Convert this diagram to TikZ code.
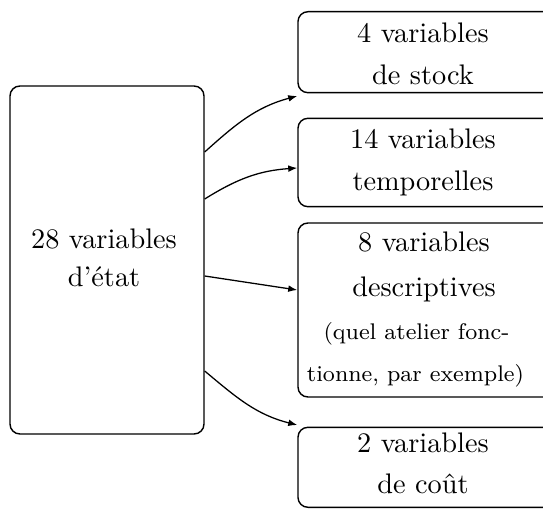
\documentclass[tikz,border=0pt]{standalone}
\usetikzlibrary{arrows.meta}
\begin{document}
\begin{tikzpicture}[x=0.3534pt,y=-0.3534pt,
  box/.style={draw,line width=0.5pt,rounded corners=3.5pt,inner sep=0pt},
  txt/.style={anchor=base,inner sep=0pt,font=\normalsize},
  small/.style={anchor=base,inner sep=0pt,font=\footnotesize},
  conn/.style={line width=0.45pt,-{Latex[length=3.2pt,width=2.4pt]}}]
\clip (0,0) rectangle (543,511);
% boxes
\node[box,minimum width=194*0.3534pt,minimum height=348*0.3534pt] (l) at (107,260) {};
\node[box,minimum width=258*0.3534pt,minimum height=81*0.3534pt] (b1) at (427,52.2) {};
\node[box,minimum width=258*0.3534pt,minimum height=88.4*0.3534pt] (b2) at (427,162.5) {};
\node[box,minimum width=258*0.3534pt,minimum height=174*0.3534pt] (b3) at (427,310) {};
\node[box,minimum width=258*0.3534pt,minimum height=80*0.3534pt] (b4) at (427,467.3) {};
% texts
\node[txt] (l1) at (104,248.3) {28 variables};
\node[txt] (l2) at (104,286.7) {d'\'etat};
\node[txt] (t11) at (423,42.3) {4 variables};
\node[txt] (t12) at (423,84) {de stock};
\node[txt] (t21) at (423,148.3) {14 variables};
\node[txt] (t22) at (423,190) {temporelles};
\node[txt] (t31) at (424,251.7) {8 variables};
\node[txt] (t32) at (424,296.7) {descriptives};
\node[small] (t33) at (416.5,340) {(quel atelier fonc-};
\node[small] (t34) at (415.5,381.7) {tionne, par exemple)};
\node[txt] (t41) at (423,452.3) {2 variables};
\node[txt] (t42) at (423,494) {de co\^ut};
% connectors
\draw[conn] ([shift={(0,-108)}]l.east) to[out=42,in=195] ([shift={(0,43.8)}]b1.west);
\draw[conn] ([shift={(0,-61)}]l.east) to[out=32,in=184] ([shift={(0,5.5)}]b2.west);
\draw[conn] ([shift={(0,16)}]l.east) -- ([shift={(0,-20)}]b3.west);
\draw[conn] ([shift={(0,111)}]l.east) to[out=-40,in=166] ([shift={(0,-42.3)}]b4.west);
\end{tikzpicture}
\end{document}
